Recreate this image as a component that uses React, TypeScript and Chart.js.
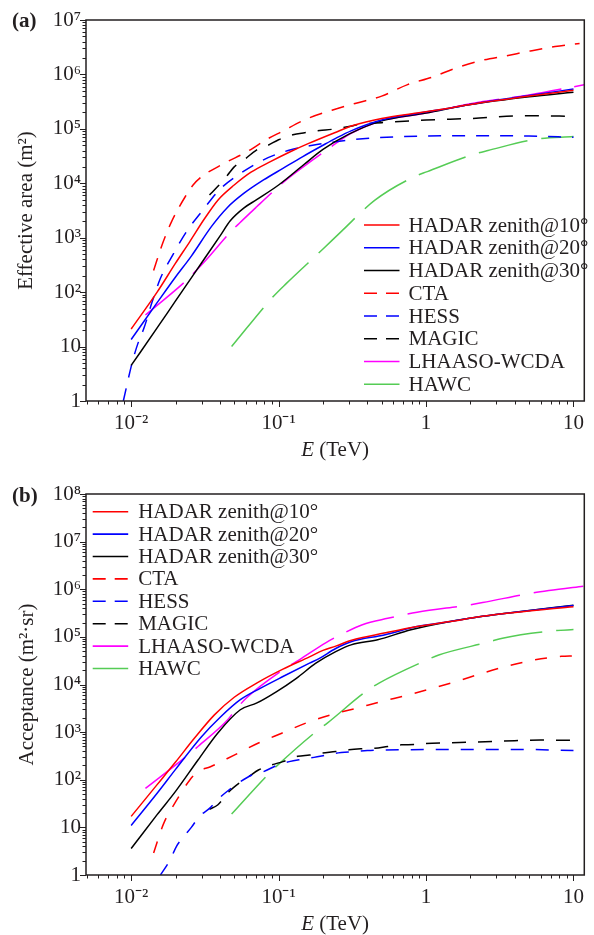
import React, { useEffect, useRef } from 'react';
import { Chart, registerables } from 'chart.js';

Chart.register(...registerables);

const FONT = "'Liberation Serif', 'Times New Roman', Times, serif";
const TEXT = '#231f20';

// ---------- tick labels ----------
const xMajorValues = [0.01, 0.1, 1, 10];
const xTickLabels = ['10⁻²', '10⁻¹', '1', '10'];
const areaMajorValues = [1, 10, 100, 1e3, 1e4, 1e5, 1e6, 1e7];
const areaTickLabels = ['1', '10', '10²', '10³', '10⁴', '10⁵', '10⁶', '10⁷'];
const accMajorValues = [1, 10, 100, 1e3, 1e4, 1e5, 1e6, 1e7, 1e8];
const accTickLabels = ['1', '10', '10²', '10³', '10⁴', '10⁵', '10⁶', '10⁷', '10⁸'];

// ---------- series ----------
const seriesLabels = ['HADAR zenith@10°', 'HADAR zenith@20°', 'HADAR zenith@30°', 'CTA', 'HESS', 'MAGIC', 'LHAASO-WCDA', 'HAWC'];
const seriesColors = ['#ff0000', '#0000ff', '#000000', '#ff0000', '#0000ff', '#000000', '#ff00ff', '#55cc55'];

// ---------- (a) effective area, E in TeV, area in m^2 ----------
const areaHadar10E = [0.01, 0.015, 0.02, 0.025, 0.0315, 0.039, 0.05, 0.065, 0.088, 0.12, 0.16, 0.24, 0.32, 0.5, 0.87, 1.5, 2.4, 5, 10];
const areaHadar10 = [21, 100, 340, 850, 2250, 5000, 9300, 16000, 25000, 38000, 54000, 85000, 115000, 155000, 195000, 245000, 305000, 400000, 510000];
const areaHadar20E = [0.01, 0.015, 0.02, 0.0256, 0.035, 0.045, 0.058, 0.079, 0.107, 0.146, 0.2, 0.244, 0.31, 0.5, 0.87, 1.5, 2.4, 5, 10];
const areaHadar20 = [13.5, 64, 190, 460, 1600, 3600, 6500, 11500, 18800, 31000, 50000, 67000, 92000, 145000, 192000, 245000, 305000, 410000, 540000];
const areaHadar30E = [0.01, 0.015, 0.02, 0.03, 0.04, 0.047, 0.058, 0.071, 0.1, 0.15, 0.2, 0.3, 0.5, 1, 2, 5, 10];
const areaHadar30 = [4.5, 22, 69, 343, 1070, 2050, 3500, 5000, 9300, 22600, 42000, 80000, 140000, 195000, 280000, 390000, 470000];
const areaCtaE = [0.0142, 0.0162, 0.0188, 0.0232, 0.0263, 0.03, 0.043, 0.061, 0.0855, 0.105, 0.153, 0.23, 0.33, 0.5, 0.75, 1.1, 1.58, 2.37, 3.5, 5.1, 7.5, 11];
const areaCta = [250, 735, 1970, 5600, 9300, 13200, 23400, 38000, 67000, 89000, 150000, 220000, 293000, 400000, 650000, 890000, 1300000, 1800000, 2200000, 2700000, 3250000, 3700000];
const areaHessE = [0.00885, 0.0102, 0.0113, 0.0122, 0.0139, 0.0158, 0.0193, 0.0237, 0.0307, 0.0395, 0.0552, 0.079, 0.116, 0.17, 0.244, 0.31, 0.47, 1, 2, 5, 10];
const areaHess = [1, 5.3, 13, 21.6, 67, 180, 500, 1290, 3240, 7500, 15200, 27000, 40000, 50000, 58000, 63000, 69000, 74000, 75000, 74000, 70000];
const areaMagicE = [0.034, 0.0386, 0.045, 0.05, 0.06, 0.07, 0.085, 0.1, 0.125, 0.15, 0.19, 0.23, 0.3, 0.35, 0.5, 1, 2, 5, 10];
const areaMagic = [6100, 8700, 14100, 20000, 28700, 40000, 50000, 63000, 78000, 85000, 93000, 98000, 110000, 120000, 130000, 145000, 155000, 175000, 170000];
const areaLhaasoE = [0.0125, 0.0232, 0.0271, 0.0322, 0.0462, 0.054, 0.071, 0.097, 0.1165, 0.22, 0.31, 0.5, 1, 2, 5, 11.8];
const areaLhaaso = [38, 156, 237, 390, 1200, 1830, 3700, 8100, 12400, 44000, 83000, 140000, 195000, 290000, 420000, 645000];
const areaHawcE = [0.048, 0.092, 0.113, 0.2, 0.27, 0.45, 0.83, 1.02, 2.14, 2.63, 5.5, 10];
const areaHawc = [10, 83, 145, 620, 1350, 4900, 13200, 16400, 34500, 40000, 64000, 72000];

// ---------- (b) acceptance, E in TeV, acceptance in m^2 sr ----------
const accHadar10E = [0.01, 0.015, 0.02, 0.027, 0.0367, 0.05, 0.071, 0.107, 0.162, 0.2, 0.244, 0.313, 0.52, 0.87, 1.46, 2.42, 4, 10];
const accHadar10 = [17, 79, 235, 760, 2300, 5400, 10700, 21000, 38000, 52000, 64000, 85000, 120000, 165000, 210000, 270000, 325000, 430000];
const accHadar20E = [0.01, 0.015, 0.02, 0.0298, 0.0405, 0.055, 0.075, 0.107, 0.162, 0.188, 0.244, 0.31, 0.52, 0.87, 1.46, 2.42, 4, 10];
const accHadar20 = [11, 52, 165, 780, 2100, 4800, 8300, 14700, 28000, 35000, 57000, 79000, 110000, 165000, 210000, 270000, 330000, 455000];
const accHadar30E = [0.01, 0.015, 0.02, 0.0284, 0.0386, 0.055, 0.0713, 0.097, 0.132, 0.179, 0.244, 0.31, 0.47, 0.79, 1.46, 2.42, 4, 10];
const accHadar30 = [3.6, 18.5, 57, 260, 950, 2950, 4100, 7100, 13500, 28000, 49000, 68000, 87000, 141000, 210000, 270000, 330000, 460000];
const accCtaE = [0.0142, 0.0166, 0.0201, 0.025, 0.0284, 0.0345, 0.05, 0.073, 0.105, 0.153, 0.225, 0.34, 0.5, 0.75, 1.1, 1.6, 2.42, 3.6, 5.5, 8.3, 10];
const accCta = [2.9, 12, 35, 99, 148, 188, 330, 590, 950, 1550, 2300, 3200, 4400, 6000, 8300, 11500, 17300, 24600, 33000, 39000, 40000];
const accHessE = [0.0158, 0.0184, 0.0203, 0.0226, 0.0256, 0.029, 0.034, 0.0395, 0.046, 0.055, 0.066, 0.079, 0.099, 0.118, 0.146, 0.174, 0.21, 0.244, 0.33, 0.4, 0.5, 1, 2, 5, 10];
const accHess = [1, 2.1, 4, 6.3, 10, 17, 25, 41, 61, 91, 126, 148, 205, 240, 270, 295, 330, 360, 390, 410, 420, 430, 430, 430, 410];
const accMagicE = [0.034, 0.0386, 0.046, 0.054, 0.063, 0.073, 0.0897, 0.107, 0.135, 0.162, 0.195, 0.244, 0.3, 0.36, 0.45, 0.55, 0.68, 0.83, 1, 1.5, 2.2, 4, 6, 10];
const accMagic = [24, 29.5, 56, 85, 117, 160, 205, 240, 310, 330, 360, 390, 425, 445, 460, 500, 540, 550, 580, 600, 620, 660, 680, 670];
const accLhaasoE = [0.0125, 0.0237, 0.0284, 0.045, 0.05, 0.06, 0.107, 0.138, 0.21, 0.27, 0.37, 0.55, 0.87, 1.97, 2.42, 5.2, 6.8, 11.9];
const accLhaaso = [66, 310, 500, 1800, 2700, 5100, 20300, 33000, 76000, 115000, 180000, 245000, 330000, 470000, 525000, 830000, 940000, 1170000];
const accHawcE = [0.048, 0.083, 0.099, 0.179, 0.214, 0.39, 0.48, 1.02, 1.22, 2.7, 3.3, 7.5, 10];
const accHawc = [19, 120, 205, 1020, 1550, 7100, 10700, 33000, 41700, 79000, 94000, 135000, 142000];

// ---------- helpers ----------
const isPow10 = (v: number) => Math.abs(Math.log10(v) - Math.round(Math.log10(v))) < 1e-6;

function logTicks(min: number, max: number) {
  const out: { value: number; major: boolean }[] = [];
  for (let e = Math.floor(Math.log10(min)) - 1; e <= Math.ceil(Math.log10(max)); e++) {
    for (let k = 1; k <= 9; k++) {
      const v = parseFloat((k * Math.pow(10, e)).toPrecision(6));
      if (v >= min * 0.9999 && v <= max * 1.0001) out.push({ value: v, major: k === 1 });
    }
  }
  return out;
}

function labelFor(value: number, majors: number[], labels: string[]) {
  for (let i = 0; i < majors.length; i++) {
    if (Math.abs(Math.log10(value) - Math.log10(majors[i])) < 1e-6) return labels[i];
  }
  return '';
}

function pts(xs: number[], ys: number[]) {
  return xs.map((x, i) => ({ x, y: ys[i] }));
}

type Panel = {
  xs: number[][];
  ys: number[][];
  dashes: number[][];
  yMin: number;
  yMax: number;
  yMajors: number[];
  yLabels: string[];
  padTop: number;
  xAxisHeight: number;
  yTitle: string;
  yTitleX: number;
  xTitleY: number;
  panelLabel: string;
  panelLabelY: number;
  legendX: number;
  legendY: number;
  legendRow: number;
  legendText: number;
};

const legendDash = [[], [], [], [13, 9], [13, 9], [13, 9], [], []];

const topPanel: Panel = {
  xs: [areaHadar10E, areaHadar20E, areaHadar30E, areaCtaE, areaHessE, areaMagicE, areaLhaasoE, areaHawcE],
  ys: [areaHadar10, areaHadar20, areaHadar30, areaCta, areaHess, areaMagic, areaLhaaso, areaHawc],
  dashes: [[], [], [], [13, 10], [13, 11], [14, 12], [50, 13], [50, 14]],
  yMin: 1,
  yMax: 1e7,
  yMajors: areaMajorValues,
  yLabels: areaTickLabels,
  padTop: 20,
  xAxisHeight: 66,
  yTitle: 'Effective area (m²)',
  yTitleX: 26,
  xTitleY: 450,
  panelLabel: '(a)',
  panelLabelY: 22,
  legendX: 364,
  legendY: 225,
  legendRow: 22.75,
  legendText: 44.5,
};

const bottomPanel: Panel = {
  xs: [accHadar10E, accHadar20E, accHadar30E, accCtaE, accHessE, accMagicE, accLhaasoE, accHawcE],
  ys: [accHadar10, accHadar20, accHadar30, accCta, accHess, accMagic, accLhaaso, accHawc],
  dashes: [[], [], [], [12, 13], [13, 12], [14, 12], [50, 14], [50, 14]],
  yMin: 1,
  yMax: 1e8,
  yMajors: accMajorValues,
  yLabels: accTickLabels,
  padTop: 27,
  xAxisHeight: 60,
  yTitle: 'Acceptance (m²·sr)',
  yTitleX: 27,
  xTitleY: 457,
  panelLabel: '(b)',
  panelLabelY: 30,
  legendX: 92.7,
  legendY: 44.7,
  legendRow: 22.4,
  legendText: 45.5,
};

const X_MIN = 0.00494;
const X_MAX = 11.84;

function makeConfig(p: Panel): any {
  const datasets = seriesLabels.map((label, i) => ({
    label,
    data: pts(p.xs[i], p.ys[i]),
    borderColor: seriesColors[i],
    backgroundColor: seriesColors[i],
    borderWidth: 1.5,
    borderDash: p.dashes[i],
    pointRadius: 0,
    fill: false,
    cubicInterpolationMode: 'monotone',
  }));

  const decor = {
    id: 'decor',
    afterDraw(chart: any) {
      const ctx = chart.ctx as CanvasRenderingContext2D;
      const a = chart.chartArea;
      const xs = chart.scales.x;
      const ys = chart.scales.y;
      ctx.save();
      ctx.setLineDash([]);
      ctx.strokeStyle = TEXT;
      // ticks
      ctx.lineWidth = 1;
      ctx.beginPath();
      for (const t of xs.ticks) {
        const px = Math.round(xs.getPixelForValue(t.value)) + 0.5;
        if (px < a.left - 1 || px > a.right + 1) continue;
        const len = isPow10(t.value) ? 6 : 3.5;
        ctx.moveTo(px, a.bottom);
        ctx.lineTo(px, a.bottom + len);
      }
      for (const t of ys.ticks) {
        const py = Math.round(ys.getPixelForValue(t.value)) + 0.5;
        if (py < a.top - 1 || py > a.bottom + 1) continue;
        const len = isPow10(t.value) ? 6 : 3.5;
        ctx.moveTo(a.left, py);
        ctx.lineTo(a.left - len, py);
      }
      ctx.stroke();
      // frame
      ctx.lineWidth = 1.5;
      ctx.strokeRect(a.left, a.top, a.right - a.left, a.bottom - a.top);

      // legend
      ctx.font = `21px ${FONT}`;
      ctx.textBaseline = 'middle';
      ctx.textAlign = 'left';
      chart.data.datasets.forEach((ds: any, i: number) => {
        const y = p.legendY + i * p.legendRow;
        ctx.strokeStyle = ds.borderColor;
        ctx.lineWidth = 1.6;
        ctx.setLineDash(legendDash[i]);
        ctx.beginPath();
        ctx.moveTo(p.legendX, y);
        ctx.lineTo(p.legendX + 35.5, y);
        ctx.stroke();
        ctx.setLineDash([]);
        ctx.fillStyle = TEXT;
        ctx.fillText(ds.label, p.legendX + p.legendText, y + 1);
      });

      // axis titles
      ctx.fillStyle = TEXT;
      ctx.font = `21px ${FONT}`;
      ctx.textAlign = 'center';
      ctx.save();
      ctx.translate(p.yTitleX, (a.top + a.bottom) / 2);
      ctx.rotate(-Math.PI / 2);
      ctx.fillText(p.yTitle, 0, 0);
      ctx.restore();

      const cx = (a.left + a.right) / 2;
      ctx.textAlign = 'left';
      ctx.font = `italic 21px ${FONT}`;
      const wE = ctx.measureText('E').width;
      ctx.font = `21px ${FONT}`;
      const wR = ctx.measureText(' (TeV)').width;
      const x0 = cx - (wE + wR) / 2;
      ctx.font = `italic 21px ${FONT}`;
      ctx.fillText('E', x0, p.xTitleY);
      ctx.font = `21px ${FONT}`;
      ctx.fillText(' (TeV)', x0 + wE, p.xTitleY);

      // panel label
      ctx.font = `bold 21px ${FONT}`;
      ctx.fillText(p.panelLabel, 12, p.panelLabelY);
      ctx.restore();
    },
  };

  return {
    type: 'line',
    data: { datasets },
    options: {
      responsive: false,
      animation: false,
      devicePixelRatio: 1,
      layout: { padding: { top: p.padTop, right: 1, left: 0, bottom: 0 } },
      plugins: { legend: { display: false }, tooltip: { enabled: false }, title: { display: false } },
      scales: {
        x: {
          type: 'logarithmic',
          min: X_MIN,
          max: X_MAX,
          afterBuildTicks: (axis: any) => {
            axis.ticks = logTicks(X_MIN, X_MAX);
          },
          afterFit: (axis: any) => {
            axis.height = p.xAxisHeight;
          },
          grid: { display: false, drawTicks: false },
          border: { display: false },
          ticks: {
            autoSkip: false,
            maxRotation: 0,
            minRotation: 0,
            padding: 10,
            color: TEXT,
            font: { family: FONT, size: 21 },
            callback: (v: any) => labelFor(Number(v), xMajorValues, xTickLabels),
          },
        },
        y: {
          type: 'logarithmic',
          min: p.yMin,
          max: p.yMax,
          afterBuildTicks: (axis: any) => {
            axis.ticks = logTicks(p.yMin, p.yMax);
          },
          afterFit: (axis: any) => {
            axis.width = 86;
          },
          grid: { display: false, drawTicks: false },
          border: { display: false },
          ticks: {
            autoSkip: false,
            padding: 5,
            color: TEXT,
            font: { family: FONT, size: 21 },
            callback: (v: any) => labelFor(Number(v), p.yMajors, p.yLabels),
          },
        },
      },
    },
    plugins: [decor],
  };
}

export default function App() {
  const topRef = useRef<HTMLCanvasElement>(null);
  const botRef = useRef<HTMLCanvasElement>(null);

  useEffect(() => {
    const c1 = new Chart(topRef.current as HTMLCanvasElement, makeConfig(topPanel));
    const c2 = new Chart(botRef.current as HTMLCanvasElement, makeConfig(bottomPanel));
    return () => {
      c1.destroy();
      c2.destroy();
    };
  }, []);

  return (
    <div style={{ position: 'absolute', left: 0, top: 0, width: 594, height: 935, background: '#ffffff' }}>
      <canvas ref={topRef} width={594} height={467} style={{ position: 'absolute', left: 0, top: 0, width: 594, height: 467 }} />
      <canvas ref={botRef} width={594} height={468} style={{ position: 'absolute', left: 0, top: 467, width: 594, height: 468 }} />
    </div>
  );
}
